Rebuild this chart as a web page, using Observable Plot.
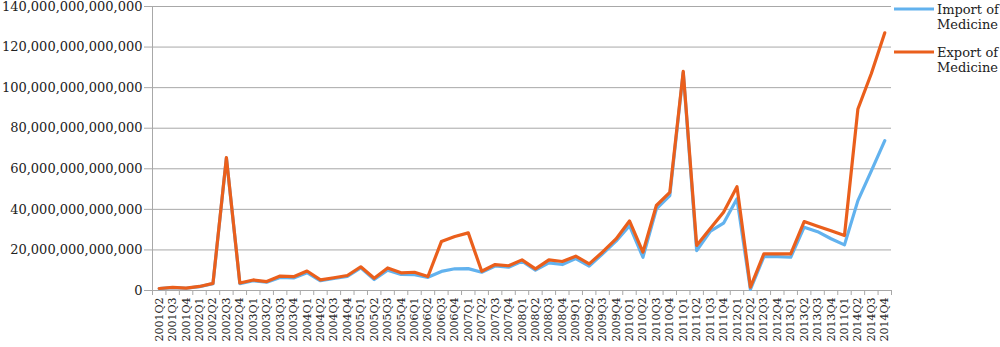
<!DOCTYPE html>
<html>
<head>
<meta charset="utf-8">
<script src="https://cdn.jsdelivr.net/npm/d3@7"></script>
<script src="https://cdn.jsdelivr.net/npm/@observablehq/plot@0.6"></script>
<style>
  html, body { margin: 0; padding: 0; background: #fff; }
  #wrap { position: relative; width: 1000px; height: 347px; }
  #legend { position: absolute; left: 893px; top: 0; font-family: "DejaVu Serif", serif; font-size: 13px; color: #222; }
  .item { position: absolute; left: 0; width: 110px; }
  .item svg { position: absolute; left: 0; }
  .item span { position: absolute; left: 44px; line-height: 15px; white-space: nowrap; }
</style>
</head>
<body>
<div id="wrap">
  <div id="chart"></div>
  <div id="legend"></div>
</div>
<script>
// Quarter labels as printed in the source chart (including its "2011Q1" label after 2013Q4)
const quarters = [
  "2001Q2","2001Q3","2001Q4",
  "2002Q1","2002Q2","2002Q3","2002Q4",
  "2003Q1","2003Q2","2003Q3","2003Q4",
  "2004Q1","2004Q2","2004Q3","2004Q4",
  "2005Q1","2005Q2","2005Q3","2005Q4",
  "2006Q1","2006Q2","2006Q3","2006Q4",
  "2007Q1","2007Q2","2007Q3","2007Q4",
  "2008Q1","2008Q2","2008Q3","2008Q4",
  "2009Q1","2009Q2","2009Q3","2009Q4",
  "2010Q1","2010Q2","2010Q3","2010Q4",
  "2011Q1","2011Q2","2011Q3","2011Q4",
  "2012Q1","2012Q2","2012Q3","2012Q4",
  "2013Q1","2013Q2","2013Q3","2013Q4",
  "2011Q1","2014Q2","2014Q3","2014Q4"
];

// Values in trillions (×1,000,000,000,000)
const importMedicine = [
  0.9, 1.4, 1.1,
  1.9, 3.3, 65.3, 3.4,
  4.8, 4.1, 6.4, 6.2,
  8.8, 4.8, 5.9, 7.0,
  11.2, 5.4, 10.0, 7.9,
  7.8, 6.5, 9.4, 10.7,
  10.8, 9.0, 12.1, 11.5,
  14.4, 10.0, 13.6, 12.8,
  15.7, 12.0, 18.1, 24.3,
  32.0, 16.4, 40.2, 46.8,
  107.5, 19.7, 29.1, 33.2,
  45.2, 0.5, 16.7, 16.7,
  16.4, 31.2, 29.0, 25.5,
  22.5, 44.3, 59.0, 73.9
];
const exportMedicine = [
  1.0, 1.5, 1.2,
  2.0, 3.5, 65.5, 3.7,
  5.2, 4.4, 7.1, 6.8,
  9.6, 5.2, 6.3, 7.4,
  11.7, 6.0, 11.1, 8.7,
  9.0, 6.9, 24.1, 26.6,
  28.4, 9.5, 12.8, 12.2,
  15.1, 10.7, 15.1, 14.3,
  16.9, 13.1, 19.0, 25.4,
  34.3, 18.9, 41.9, 48.4,
  108.0, 22.2, 30.4, 38.6,
  51.2, 1.6, 18.1, 18.1,
  18.1, 34.0, 31.7, 29.4,
  27.1, 89.5, 107.0, 127.0
];

const yTicks = [0, 20, 40, 60, 80, 100, 120, 140];
const seriesNames = ["Import of Medicine", "Export of Medicine"];
const seriesColors = ["#62b2ee", "#ea5f1c"];

const idx = quarters.map((q, i) => i);
const boundaries = d3.range(quarters.length + 1).map(i => i - 0.5);
const importData = idx.map(i => ({i, v: importMedicine[i]}));
const exportData = idx.map(i => ({i, v: exportMedicine[i]}));

const fmt = d3.format(",.0f");
const gridColor = "#a8a8a8";
const textColor = "#222";

const chart = Plot.plot({
  width: 1000,
  height: 347,
  marginLeft: 152,
  marginRight: 109,
  marginTop: 6,
  marginBottom: 57,
  style: {fontFamily: "DejaVu Serif, serif", fontSize: "13px", background: "#fff"},
  x: {type: "linear", domain: [-0.5, quarters.length - 0.5]},
  y: {domain: [0, 140]},
  marks: [
    Plot.gridY(yTicks.slice(1), {stroke: gridColor, strokeOpacity: 1}),
    Plot.ruleX([boundaries[0]], {stroke: gridColor}),
    Plot.ruleY([0], {stroke: gridColor}),
    Plot.axisY(yTicks, {
      tickFormat: d => fmt(d * 1e12), tickSize: 8, tickPadding: 2,
      stroke: gridColor, fill: textColor, fontSize: 13, label: null
    }),
    Plot.axisX(boundaries, {
      tickFormat: () => "", tickSize: 5, stroke: gridColor, label: null
    }),
    Plot.axisX(idx, {
      tickFormat: i => quarters[i], tickSize: 0, tickPadding: 7, tickRotate: -90,
      fill: textColor, fontSize: 11, label: null
    }),
    Plot.line(importData, {x: "i", y: "v", stroke: seriesColors[0], strokeWidth: 3.2, strokeLinejoin: "round"}),
    Plot.line(exportData, {x: "i", y: "v", stroke: seriesColors[1], strokeWidth: 3.2, strokeLinejoin: "round"})
  ]
});
document.getElementById("chart").appendChild(chart);

// Legend on the right
const legend = d3.select("#legend");
const tops = [2, 45];
seriesNames.forEach((name, k) => {
  const words = name.split(" ");
  const item = legend.append("div").attr("class", "item").style("top", tops[k] + "px");
  item.append("svg").attr("width", 42).attr("height", 14).style("top", "0px")
    .append("line").attr("x1", 1).attr("x2", 41).attr("y1", 7).attr("y2", 7)
    .attr("stroke", seriesColors[k]).attr("stroke-width", 3);
  item.append("span").style("top", "0px")
    .html(words.slice(0, 2).join(" ") + "<br>" + words.slice(2).join(" "));
});
</script>
</body>
</html>
